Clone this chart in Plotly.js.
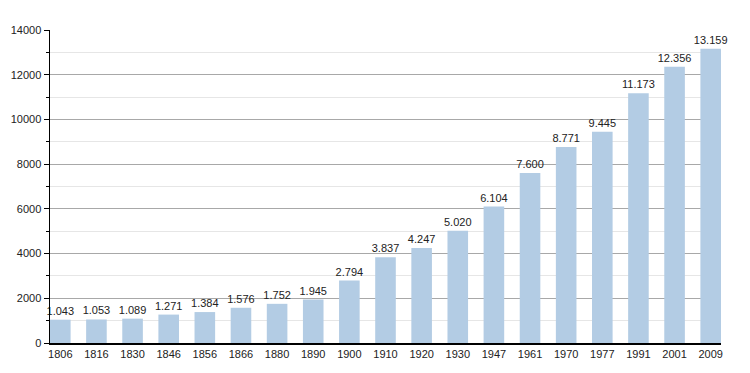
<!DOCTYPE html>
<html><head><meta charset="utf-8">
<script src="https://cdn.plot.ly/plotly-3.0.1.min.js"></script>
<style>html,body{margin:0;padding:0;background:#fff}#c{width:750px;height:373px}</style>
</head><body><div id="c"></div>
<script>
var years = ["1806","1816","1830","1846","1856","1866","1880","1890","1900","1910","1920","1930","1947","1961","1970","1977","1991","2001","2009"];
var population = [1043,1053,1089,1271,1384,1576,1752,1945,2794,3837,4247,5020,6104,7600,8771,9445,11173,12356,13159];
var yTicks = [0,2000,4000,6000,8000,10000,12000,14000];

var barW = 0.57;
Plotly.newPlot('c', [{
  type: 'bar',
  x: years,
  y: population,
  width: barW,
  marker: {color: '#b3cce4', line: {width: 0}},
  texttemplate: '%{y:,}',
  textposition: 'outside',
  constraintext: 'none',
  cliponaxis: false,
  textfont: {family: 'Liberation Sans, Arial, sans-serif', size: 11, color: '#222'},
  hoverinfo: 'none'
}], {
  width: 750, height: 373,
  separators: ',.',
  margin: {l: 50, r: 29, t: 30, b: 30},
  paper_bgcolor: '#fff', plot_bgcolor: '#fff',
  showlegend: false,
  font: {family: 'Liberation Sans, Arial, sans-serif', size: 11, color: '#222'},
  xaxis: {
    type: 'category',
    range: [-barW/2, years.length - 1 + barW/2],
    showgrid: false,
    showline: true, linecolor: '#000', linewidth: 1.5,
    ticks: '', tickfont: {size: 11, color: '#222'},
    fixedrange: true
  },
  yaxis: {
    range: [0, 14000],
    tickvals: yTicks,
    tickformat: 'd',
    showgrid: true, gridcolor: '#a8a8a8', gridwidth: 1,
    zeroline: false,
    showline: true, linecolor: '#000', linewidth: 1.5,
    ticks: 'outside', ticklen: 5, tickcolor: '#000', tickwidth: 1,
    tickfont: {size: 11, color: '#222'},
    minor: {dtick: 1000, ticks: 'outside', ticklen: 3, tickcolor: '#000', showgrid: true, gridcolor: '#e6e6e6', gridwidth: 1},
    fixedrange: true
  },
  bargap: 0.4
}, {displayModeBar: false, staticPlot: true});
</script></body></html>
